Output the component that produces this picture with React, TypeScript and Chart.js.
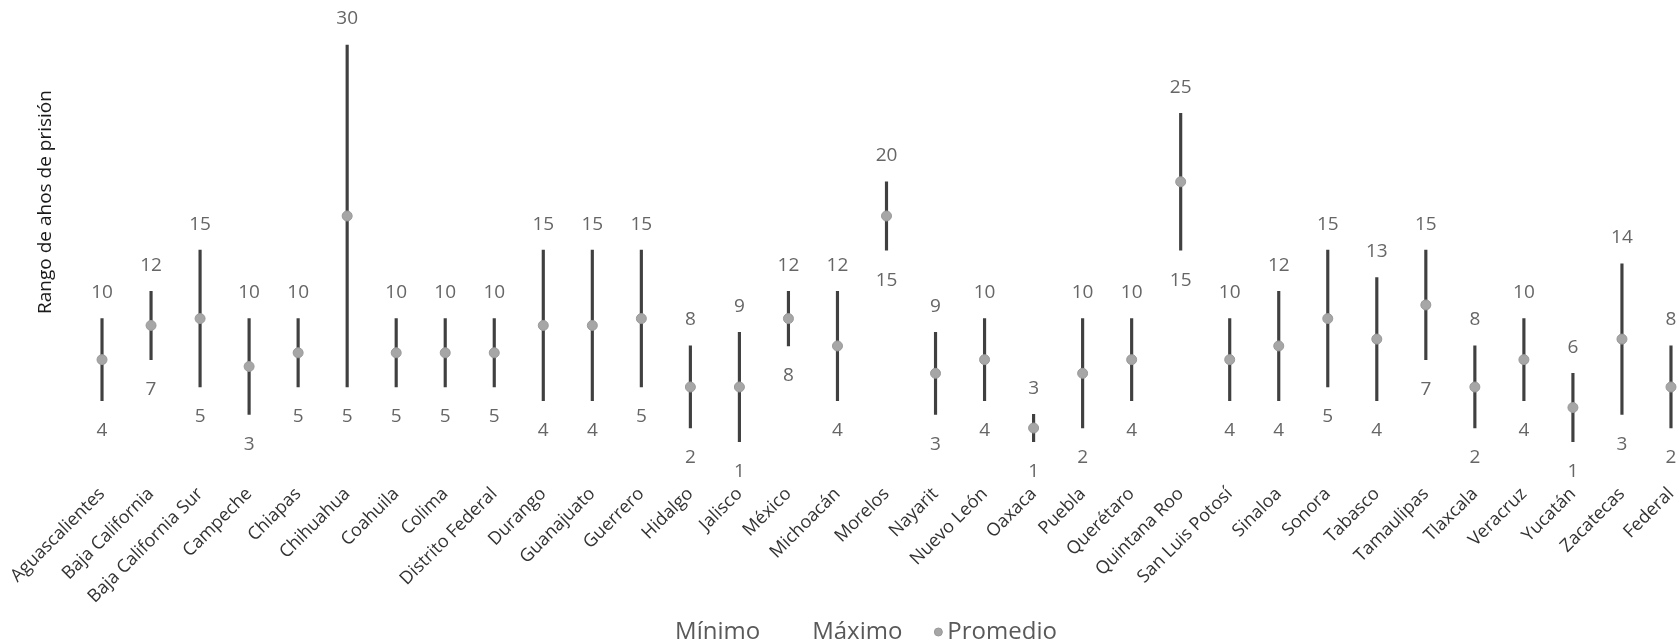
import React, { useEffect, useRef } from "react";
import { Chart, registerables } from "chart.js";

Chart.register(...registerables);

const categories = [
  "Aguascalientes", "Baja California", "Baja California Sur", "Campeche", "Chiapas",
  "Chihuahua", "Coahuila", "Colima", "Distrito Federal", "Durango", "Guanajuato",
  "Guerrero", "Hidalgo", "Jalisco", "México", "Michoacán", "Morelos", "Nayarit",
  "Nuevo León", "Oaxaca", "Puebla", "Querétaro", "Quintana Roo", "San Luis Potosí",
  "Sinaloa", "Sonora", "Tabasco", "Tamaulipas", "Tlaxcala", "Veracruz", "Yucatán",
  "Zacatecas", "Federal",
];

const minimo = [4, 7, 5, 3, 5, 5, 5, 5, 5, 4, 4, 5, 2, 1, 8, 4, 15, 3, 4, 1, 2, 4, 15, 4, 4, 5, 4, 7, 2, 4, 1, 3, 2];
const maximo = [10, 12, 15, 10, 10, 30, 10, 10, 10, 15, 15, 15, 8, 9, 12, 12, 20, 9, 10, 3, 10, 10, 25, 10, 12, 15, 13, 15, 8, 10, 6, 14, 8];
const promedio = [7, 9.5, 10, 6.5, 7.5, 17.5, 7.5, 7.5, 7.5, 9.5, 9.5, 10, 5, 5, 10, 8, 17.5, 6, 7, 2, 6, 7, 20, 7, 8, 10, 8.5, 11, 5, 7, 3.5, 8.5, 5];

const yTitle = "Rango de ahos de prisión";

const FONT = "'Open Sans', 'Noto Sans', sans-serif";

const decorPlugin = {
  id: "decor",
  afterDatasetsDraw(chart: any) {
    const ctx = chart.ctx;
    ctx.save();
    ctx.font = `19px ${FONT}`;
    ctx.fillStyle = "#666666";
    ctx.textAlign = "center";
    ctx.textBaseline = "middle";
    const minMeta = chart.getDatasetMeta(0);
    const maxMeta = chart.getDatasetMeta(1);
    minMeta.data.forEach((pt: any, i: number) => {
      ctx.fillText(String(chart.data.datasets[0].data[i]), pt.x, pt.y + 30);
    });
    maxMeta.data.forEach((pt: any, i: number) => {
      ctx.fillText(String(chart.data.datasets[1].data[i]), pt.x, pt.y - 26);
    });
    ctx.restore();
  },
  afterDraw(chart: any) {
    const ctx = chart.ctx;
    // y axis title
    ctx.save();
    ctx.translate(46, 202);
    ctx.rotate(-Math.PI / 2);
    ctx.font = `19px ${FONT}`;
    ctx.fillStyle = "#1a1a1a";
    ctx.textAlign = "center";
    ctx.textBaseline = "middle";
    ctx.fillText(yTitle, 0, 0);
    ctx.restore();

    // legend
    ctx.save();
    ctx.font = `24px ${FONT}`;
    ctx.textBaseline = "middle";
    ctx.textAlign = "left";
    const ds = chart.data.datasets;
    const t0 = ds[0].label, t1 = ds[1].label, t2 = ds[2].label;
    const w0 = ctx.measureText(t0).width;
    const w1 = ctx.measureText(t1).width;
    const w2 = ctx.measureText(t2).width;
    const gapText = 52;
    const gapMarker = 36;
    const markerToText = 9;
    const total = w0 + gapText + w1 + gapMarker + markerToText + w2;
    let x = chart.width / 2 + 6 - total / 2;
    const y = chart.height - 20;
    ctx.fillStyle = "#595959";
    ctx.fillText(t0, x, y);
    x += w0 + gapText;
    ctx.fillText(t1, x, y);
    x += w1 + gapMarker;
    ctx.beginPath();
    ctx.arc(x, y, 4, 0, Math.PI * 2);
    ctx.fillStyle = ds[2].pointBackgroundColor;
    ctx.fill();
    ctx.lineWidth = 1;
    ctx.strokeStyle = ds[2].pointBorderColor;
    ctx.stroke();
    x += markerToText;
    ctx.fillStyle = "#595959";
    ctx.fillText(t2, x, y);
    ctx.restore();
  },
};

export default function App() {
  const canvasRef = useRef<HTMLCanvasElement | null>(null);

  useEffect(() => {
    if (!canvasRef.current) return;
    const chart = new Chart(canvasRef.current, {
      type: "bar",
      data: {
        labels: categories,
        datasets: [
          {
            type: "line",
            label: "Mínimo",
            data: minimo,
            showLine: false,
            pointRadius: 0,
            pointHoverRadius: 0,
            order: 0,
          } as any,
          {
            type: "line",
            label: "Máximo",
            data: maximo,
            showLine: false,
            pointRadius: 0,
            pointHoverRadius: 0,
            order: 0,
          } as any,
          {
            type: "line",
            label: "Promedio",
            data: promedio,
            showLine: false,
            pointRadius: 5,
            pointHoverRadius: 5,
            pointBackgroundColor: "#a6a6a6",
            pointBorderColor: "#999999",
            pointBorderWidth: 1,
            order: 0,
          } as any,
          {
            type: "bar",
            label: "Rango",
            data: minimo.map((m, i) => [m, maximo[i]]),
            backgroundColor: "#404040",
            barThickness: 2.5,
            grouped: false,
            order: 1,
          } as any,
        ],
      },
      options: {
        responsive: true,
        maintainAspectRatio: false,
        animation: false,
        layout: { padding: { left: 77.5, right: 24.5, top: 17.6, bottom: 0 } },
        plugins: {
          legend: { display: false },
          tooltip: { enabled: false },
        },
        scales: {
          x: {
            offset: true,
            grid: { display: false },
            border: { display: false },
            ticks: {
              autoSkip: false,
              minRotation: 45,
              maxRotation: 45,
              padding: 20,
              color: "#333333",
              font: { family: FONT, size: 18 },
            },
            afterFit(scale: any) {
              scale.paddingLeft = 0;
              scale.paddingRight = 0;
              scale.height = 652 - 455.4;
            },
          },
          y: {
            display: false,
            min: 0,
            max: 32,
          },
        },
      },
      plugins: [decorPlugin],
    } as any);
    return () => chart.destroy();
  }, []);

  return (
    <div style={{ position: "fixed", left: 0, top: 0, width: 1679, height: 642, overflow: "hidden", background: "#fff" }}>
      <div style={{ position: "relative", width: 1720, height: 652 }}>
        <canvas ref={canvasRef} />
      </div>
    </div>
  );
}
